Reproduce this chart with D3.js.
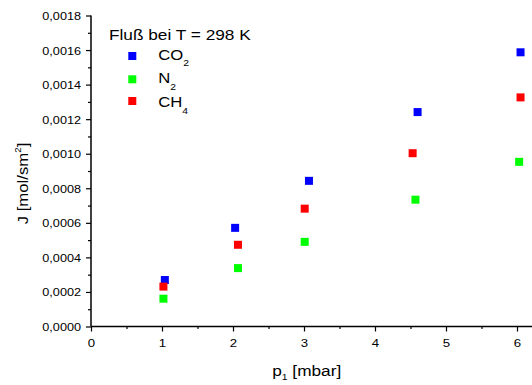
<!DOCTYPE html>
<html><head><meta charset="utf-8">
<script src="https://cdn.jsdelivr.net/npm/d3@7"></script>
<style>body{margin:0;background:#fff}svg{display:block}text{font-family:"Liberation Sans",Arial,sans-serif;fill:#000}</style>
</head><body><svg id="c" width="532" height="385"></svg>
<script>
const xTicks = [0,1,2,3,4,5,6];
const yTicks = [0,0.0002,0.0004,0.0006,0.0008,0.0010,0.0012,0.0014,0.0016,0.0018];
const seriesNames = ["CO", "N", "CH"];
const seriesSubs = ["2","2","4"];
const seriesColors = ["#0000ff","#00ff00","#ff0000"];
const co2X = [1.04,2.03,3.07,4.60,6.05];
const co2Y = [0.000269,0.000571,0.000843,0.001241,0.001587];
const n2X = [1.02,2.07,3.01,4.57,6.03];
const n2Y = [0.000161,0.000338,0.000490,0.000734,0.000953];
const ch4X = [1.02,2.07,3.01,4.53,6.05];
const ch4Y = [0.000231,0.000473,0.000682,0.001003,0.001326];
const legendTitle = "Fluß bei T = 298 K";

const SX = 1.15; // horizontal stretch of text in the reference
const svg = d3.select("#c");
const x = d3.scaleLinear().domain([0,6.5]).range([91,552.5]);
const y = d3.scaleLinear().domain([0,0.0018]).range([326.5,15.5]);
const fmt = d => d3.format(".4f")(d).replace(".", ",");

const xa = svg.append("g").attr("transform","translate(0,326.5)")
  .call(d3.axisBottom(x).tickValues(xTicks).tickSize(5).tickPadding(4).tickFormat(d3.format("d")));
const xm = svg.append("g").attr("transform","translate(0,326.5)")
  .call(d3.axisBottom(x).tickValues(d3.range(0.5,6.6,1)).tickSize(2.5).tickFormat(""));
const ya = svg.append("g").attr("transform","translate(91,0)")
  .call(d3.axisLeft(y).tickValues(yTicks).tickSize(5).tickPadding(4).tickFormat(fmt));
const ym = svg.append("g").attr("transform","translate(91,0)")
  .call(d3.axisLeft(y).tickValues(d3.range(0.0001,0.0018,0.0002)).tickSize(3).tickFormat(""));
[xa,xm,ya,ym].forEach(g=>{
  g.selectAll(".domain").attr("stroke","#000").attr("stroke-width",1.5);
  g.selectAll(".tick line").attr("stroke","#000").attr("stroke-width",1.2);
});
xm.select(".domain").remove(); ym.select(".domain").remove();
xa.select(".domain").attr("d","M91,0H552");
ya.select(".domain").attr("d","M0,326.5V15.5");
xa.selectAll(".tick text").attr("y",null).attr("dy",null)
  .attr("transform",`translate(0,20.5) scale(${SX},1)`)
  .style("font-size","11.5px").style("font-family","'Liberation Sans',Arial,sans-serif");
ya.selectAll(".tick text").attr("x",null).attr("dy",null)
  .attr("transform",`translate(-10,4) scale(${SX},1)`)
  .style("font-size","11px").style("font-family","'Liberation Sans',Arial,sans-serif");

const data = [[co2X,co2Y],[n2X,n2Y],[ch4X,ch4Y]];
data.forEach((s,i)=>{
  svg.append("g").selectAll("rect").data(s[0].map((v,j)=>[v,s[1][j]])).enter().append("rect")
    .attr("x",d=>x(d[0])-4).attr("y",d=>y(d[1])-4).attr("width",8).attr("height",8)
    .attr("fill",seriesColors[i]);
});

function stext(tx,ty,rot,size,anchor){
  return svg.append("text")
    .attr("transform",`translate(${tx},${ty})${rot?` rotate(${rot})`:""} scale(${SX},1)`)
    .attr("text-anchor",anchor||"start").style("font-size",size+"px");
}

// legend
stext(109,40,0,15).text(legendTitle);
const legY = [56,79.3,101];
const legBase = [59.5,83.3,107.3];
seriesNames.forEach((n,i)=>{
  svg.append("rect").attr("x",128.3).attr("y",legY[i]-4).attr("width",8).attr("height",8).attr("fill",seriesColors[i]);
  const t = stext(158.3,legBase[i],0,14.5);
  t.append("tspan").text(n);
  t.append("tspan").attr("dy",6.5).style("font-size","9px").text(seriesSubs[i]);
});

// axis titles
const xt = stext(306.7,376,0,15,"middle");
xt.append("tspan").text("p");
xt.append("tspan").attr("dy",4).style("font-size","9px").text("1");
xt.append("tspan").attr("dy",-4).text(" [mbar]");
const yt = svg.append("text").attr("transform","translate(27.5,183.5) rotate(-90) scale(1.08,1)")
  .attr("text-anchor","middle").style("font-size","15.5px");
yt.append("tspan").text("J [mol/sm");
yt.append("tspan").attr("dy",-6.5).style("font-size","9px").text("2");
yt.append("tspan").attr("dy",6.5).text("]");
</script></body></html>
